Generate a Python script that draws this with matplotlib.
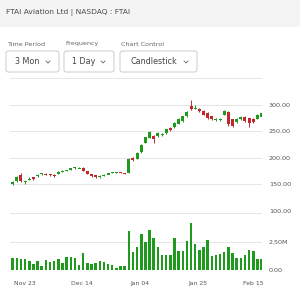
import matplotlib

matplotlib.use("Agg")

import matplotlib.pyplot as plt
from matplotlib.lines import Line2D
from matplotlib.patches import FancyBboxPatch, Rectangle
from matplotlib.ticker import FuncFormatter

# OHLC diario
opens = [151, 156, 167, 155, 159, 163, 165, 169, 170, 169, 168, 170, 174, 176, 178,
         180, 180.5, 181, 175, 169, 167, 163, 166, 169.5, 171.5, 172, 172.5, 171.5,
         172, 199, 198, 210, 228, 238, 241, 241, 242, 246, 256, 257, 264, 269, 278,
         298, 292, 292, 288, 285, 278, 271, 271.5, 281, 287, 272, 267, 272, 277, 274,
         273, 273, 277]
closes = [155, 164, 156, 156, 161, 162, 168, 171, 168, 167, 165, 174, 176, 177, 180,
          182, 182, 176, 170, 165, 163, 166, 168, 170.5, 172.5, 173, 171.8, 171, 197,
          196, 209, 225, 239, 248, 235, 247, 245, 254, 253, 266, 273, 278, 286, 291,
          293, 288, 281, 274, 272, 273, 273, 288, 263, 260, 273, 277, 269, 266, 267,
          280, 284]
highs = [157, 165, 172, 157, 163, 164, 169, 172, 171, 170, 169, 175, 177, 178, 181,
         183, 183, 182, 176, 170, 168, 167, 169, 171, 173, 174, 173, 172, 199, 201,
         210, 226, 240, 250, 243, 248, 246, 255, 258, 267, 275, 279, 288, 308, 300,
         293, 289, 286, 279, 274, 274, 290, 288, 273, 274, 279, 278, 275, 274, 282, 287]
lows = [149, 155, 155, 151, 158, 159, 164, 168, 167, 166, 163, 169, 174, 175, 177,
        179, 180, 175, 169, 164, 162, 162, 165, 169, 171, 171, 171, 170, 171, 194,
        197, 209, 227, 237, 228, 240, 241, 245, 250, 256, 263, 268, 277, 289, 291,
        287, 280, 273, 271, 270, 270, 280, 259, 257, 266, 271, 268, 257, 265, 272, 275]
# volumen en millones
volumes = [1.08, 1.02, 0.99, 0.99, 0.83, 0.56, 0.83, 0.37, 0.86, 0.68,
           0.77, 0.99, 0.62, 1.11, 1.14, 1.08, 0.46, 1.48, 0.62, 0.56,
           0.62, 0.80, 0.68, 0.56, 0.46, 0.15, 0.31, 0.31, 3.40, 1.54,
           2.01, 3.18, 2.47, 3.55, 2.78, 2.01, 1.33, 1.33, 1.33, 2.78,
           1.64, 1.70, 2.56, 4.10, 2.31, 1.79, 2.01, 2.62, 1.23, 1.33,
           1.39, 1.60, 2.01, 1.45, 1.08, 1.08, 1.30, 1.76, 1.70, 0.93, 0.93]

date_labels = ["Nov 23", "Dec 14", "Jan 04", "Jan 25", "Feb 15"]
date_pos = [3.0, 16.7, 30.6, 44.6, 58.1]

price_ticks = [100, 150, 200, 250, 300, 350]
vol_ticks = [0, 2.5, 5.0]

GREEN = "#1f9a1f"
RED = "#c0282d"
GRID = "#e6e6e6"
TXT = "#555555"

W, H = 300, 290


def fx(px):
    return px / W


def fy(py):
    return 1 - py / H


fig = plt.figure(figsize=(W / 100, H / 100), dpi=100)
fig.patch.set_facecolor("white")

# --- cabecera ---
fig.patches.append(Rectangle((0, fy(27)), 1, 27 / H, transform=fig.transFigure,
                             facecolor="#f4f4f4", edgecolor="none", zorder=0))
fig.text(fx(6), fy(13), "FTAI Aviation Ltd | NASDAQ : FTAI", fontsize=5.4,
         color="#4a4a4a", va="center", ha="left")

# --- controles ---
controles = [
    ("Time Period", "3 Mon", 6, 59),
    ("Frequency", "1 Day", 64, 114),
    ("Chart Control", "Candlestick", 120, 197),
]
for etiqueta, valor, x0, x1 in controles:
    fig.text(fx(x0 + 1), fy(44), etiqueta, fontsize=4.6, color="#666666",
             va="center", ha="left")
    box = FancyBboxPatch((fx(x0), fy(72)), fx(x1 - x0), 21 / H,
                         boxstyle="round,pad=0,rounding_size=0.008",
                         transform=fig.transFigure, facecolor="white",
                         edgecolor="#cccccc", linewidth=0.7)
    fig.patches.append(box)
    cx = (x0 + x1) / 2 - 5
    fig.text(fx(cx), fy(62), valor, fontsize=5.8, color="#444444",
             va="center", ha="center")
    chx = x1 - 11
    fig.lines.append(Line2D([fx(chx - 2), fx(chx), fx(chx + 2)],
                            [fy(61), fy(63), fy(61)], transform=fig.transFigure,
                            color="#666666", linewidth=0.6))

# --- precio ---
ax = fig.add_axes([fx(10), fy(211), fx(252), (211 - 78) / H])
n = len(opens)
for i in range(n):
    o, c, h, l = opens[i], closes[i], highs[i], lows[i]
    col = GREEN if c >= o else RED
    ax.vlines(i, l, h, color=col, linewidth=0.7, zorder=2)
    ax.bar(i, max(abs(c - o), 2.0), bottom=min(o, c) - (1.0 if abs(c - o) < 2 else 0),
           width=0.72, color=col, zorder=3)
ax.set_xlim(-0.65, 60.1)
ax.set_ylim(100, 350)
ax.set_yticks(price_ticks)
ax.yaxis.tick_right()
ax.yaxis.set_major_formatter(FuncFormatter(
    lambda v, p: "" if v >= 350 else f"{v:.2f}"))
ax.tick_params(axis="y", length=0, pad=5, labelsize=4.6, labelcolor=TXT)
ax.set_xticks([])
ax.grid(axis="y", color=GRID, linewidth=0.7, zorder=0)
for s in ax.spines.values():
    s.set_visible(False)
ax.set_facecolor("none")

# --- volumen ---
axv = fig.add_axes([fx(10), fy(270), fx(252), (270 - 213) / H])
axv.bar(range(len(volumes)), volumes, width=0.6, color=GREEN, zorder=3)
axv.set_xlim(-0.65, 60.1)
axv.set_ylim(0, 5.0)
axv.set_yticks(vol_ticks)
axv.yaxis.tick_right()
axv.yaxis.set_major_formatter(FuncFormatter(
    lambda v, p: "0.00" if v == 0 else ("" if v >= 5 else f"{v:.2f}M")))
axv.tick_params(axis="y", length=0, pad=5, labelsize=4.6, labelcolor=TXT)
axv.set_xticks(date_pos)
axv.set_xticklabels(date_labels)
axv.tick_params(axis="x", length=0, pad=8, labelsize=4.4, labelcolor=TXT)
axv.grid(axis="y", color=GRID, linewidth=0.7, zorder=0)
for s in axv.spines.values():
    s.set_visible(False)
axv.set_facecolor("none")

fig.savefig("out.png", dpi=100)
